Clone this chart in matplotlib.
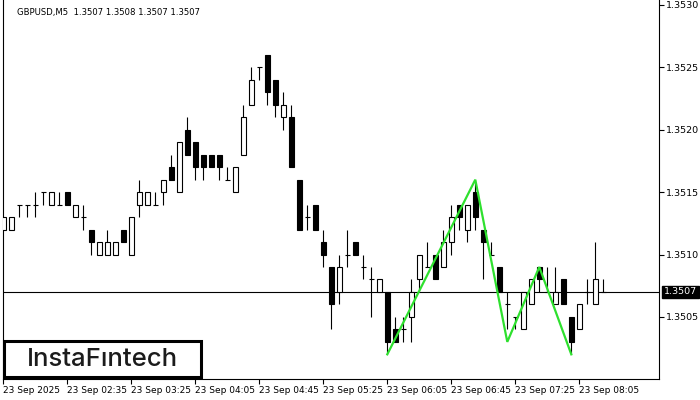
import matplotlib
matplotlib.use("Agg")
import matplotlib.pyplot as plt
from matplotlib.patches import Rectangle
import matplotlib.transforms as mtransforms

# GBPUSD M5 candles (one entry per bar, left to right)
opens = [1.3512, 1.3512, 1.3514, 1.3514, 1.3514, 1.3515, 1.3514, 1.3514, 1.3515, 1.3513,
         1.3513, 1.3512, 1.3510, 1.3510, 1.3510, 1.3512, 1.3510, 1.3514, 1.3514, 1.3514,
         1.3515, 1.3517, 1.3515, 1.3520, 1.3519, 1.3518, 1.3518, 1.3518, 1.3516, 1.3515,
         1.3518, 1.3522, 1.3525, 1.3526, 1.3524, 1.3521, 1.3521, 1.3516, 1.3513, 1.3514,
         1.3511, 1.3509, 1.3507, 1.3510, 1.3511, 1.3509, 1.3508, 1.3507, 1.3507, 1.3504,
         1.3504, 1.3505, 1.3508, 1.3509, 1.3510, 1.3509, 1.3511, 1.3514, 1.3512, 1.3515,
         1.3512, 1.3510, 1.3509, 1.3506, 1.3505, 1.3504, 1.3506, 1.3509, 1.3507, 1.3506,
         1.3508, 1.3505, 1.3504, 1.3507, 1.3506, 1.3507]
highs = [1.3513, 1.3513, 1.3514, 1.3514, 1.3515, 1.3515, 1.3515, 1.3515, 1.3515, 1.3514,
         1.3514, 1.3512, 1.3511, 1.3512, 1.3511, 1.3512, 1.3513, 1.3516, 1.3515, 1.3515,
         1.3516, 1.3518, 1.3519, 1.3521, 1.3519, 1.3518, 1.3518, 1.3518, 1.3517, 1.3517,
         1.3522, 1.3525, 1.3525, 1.3526, 1.3524, 1.3523, 1.3522, 1.3516, 1.3514, 1.3514,
         1.3512, 1.3509, 1.3510, 1.3512, 1.3511, 1.3510, 1.3509, 1.3508, 1.3507, 1.3505,
         1.3505, 1.3508, 1.3510, 1.3511, 1.3510, 1.3512, 1.3514, 1.3514, 1.3514, 1.3516,
         1.3512, 1.3511, 1.3509, 1.3507, 1.3505, 1.3507, 1.3508, 1.3509, 1.3509, 1.3509,
         1.3508, 1.3505, 1.3506, 1.3508, 1.3511, 1.3508]
lows = [1.3512, 1.3512, 1.3513, 1.3513, 1.3513, 1.3514, 1.3514, 1.3514, 1.3514, 1.3513,
        1.3512, 1.3510, 1.3510, 1.3510, 1.3510, 1.3511, 1.3510, 1.3513, 1.3514, 1.3514,
        1.3514, 1.3516, 1.3515, 1.3518, 1.3516, 1.3516, 1.3517, 1.3516, 1.3516, 1.3515,
        1.3518, 1.3522, 1.3524, 1.3522, 1.3521, 1.3520, 1.3517, 1.3512, 1.3512, 1.3512,
        1.3509, 1.3504, 1.3506, 1.3509, 1.3510, 1.3508, 1.3505, 1.3507, 1.3502, 1.3503,
        1.3503, 1.3503, 1.3507, 1.3509, 1.3508, 1.3509, 1.3510, 1.3512, 1.3511, 1.3512,
        1.3508, 1.3510, 1.3507, 1.3504, 1.3504, 1.3504, 1.3506, 1.3507, 1.3507, 1.3506,
        1.3506, 1.3502, 1.3504, 1.3506, 1.3506, 1.3507]
closes = [1.3513, 1.3513, 1.3514, 1.3514, 1.3514, 1.3515, 1.3515, 1.3514, 1.3514, 1.3514,
          1.3513, 1.3511, 1.3511, 1.3511, 1.3511, 1.3511, 1.3513, 1.3515, 1.3515, 1.3514,
          1.3516, 1.3516, 1.3519, 1.3518, 1.3517, 1.3517, 1.3517, 1.3517, 1.3516, 1.3517,
          1.3521, 1.3524, 1.3525, 1.3523, 1.3522, 1.3522, 1.3517, 1.3512, 1.3513, 1.3512,
          1.3510, 1.3506, 1.3509, 1.3510, 1.3510, 1.3509, 1.3508, 1.3508, 1.3503, 1.3503,
          1.3504, 1.3507, 1.3510, 1.3509, 1.3508, 1.3511, 1.3513, 1.3513, 1.3514, 1.3513,
          1.3511, 1.3510, 1.3507, 1.3506, 1.3505, 1.3507, 1.3508, 1.3508, 1.3507, 1.3507,
          1.3506, 1.3503, 1.3506, 1.3507, 1.3508, 1.3507]

# triple-bottom pattern drawn over the bars (bar index, price)
pattern_idx = [48, 59, 63, 67, 71]
pattern_px = [1.3502, 1.3516, 1.3503, 1.3509, 1.3502]

tick_idx = [0, 8, 16, 24, 32, 40, 48, 56, 64, 72]
tick_labels = ["23 Sep 2025", "23 Sep 02:35", "23 Sep 03:25", "23 Sep 04:05",
               "23 Sep 04:45", "23 Sep 05:25", "23 Sep 06:05", "23 Sep 06:45",
               "23 Sep 07:25", "23 Sep 08:05"]
price_ticks = [1.3505, 1.3510, 1.3515, 1.3520, 1.3525, 1.3530]
last_price = 1.3507
header = "GBPUSD,M5  1.3507 1.3508 1.3507 1.3507"

W, H = 700, 400
LW = 0.8
BODY = 0.28   # half body width in bar units
GREEN = "#2ee02e"


def main():
    fig = plt.figure(figsize=(W / 100, H / 100), dpi=100)
    fig.patch.set_facecolor("white")
    # plot frame in pixels: left 2.7, right 659.3, top 0, bottom 379.3
    ax = fig.add_axes([2.7 / W, 1 - 379.3 / H, (659.3 - 2.7) / W, 379.3 / H])
    ax.set_facecolor("white")

    for i, (o, h, l, c) in enumerate(zip(opens, highs, lows, closes)):
        top, bot = max(o, c), min(o, c)
        if h > top:
            ax.vlines(i, top, h, color="black", lw=LW, zorder=2)
        if l < bot:
            ax.vlines(i, l, bot, color="black", lw=LW, zorder=2)
        if abs(c - o) < 1e-9:
            ax.hlines(o, i - BODY, i + BODY, color="black", lw=LW, zorder=3)
        else:
            fc = "white" if c > o else "black"
            ax.bar(i, top - bot, bottom=bot, width=2 * BODY, color=fc,
                   edgecolor="black", linewidth=LW, zorder=3)

    ax.axhline(last_price, color="black", lw=LW, zorder=1)
    ax.plot(pattern_idx, pattern_px, color=GREEN, lw=1.6, zorder=4,
            solid_joinstyle="miter")

    ax.set_xlim(-0.075, 82.0)
    ax.set_ylim(1.35000, 1.35304)

    ax.spines["top"].set_visible(False)
    for s in ("left", "right", "bottom"):
        ax.spines[s].set_linewidth(LW)

    ax.set_xticks(tick_idx)
    ax.set_xticklabels(tick_labels, fontsize=6.5, ha="left")
    ax.tick_params(axis="x", length=3.5, width=LW, pad=1.5, direction="out")

    ax.yaxis.tick_right()
    ax.set_yticks(price_ticks)
    ax.set_yticklabels([f"{p:.4f}" for p in price_ticks], fontsize=6.8)
    ax.tick_params(axis="y", length=3.5, width=LW, pad=1.5, direction="out")

    # current price tag on the right scale
    trans = mtransforms.blended_transform_factory(ax.transAxes, ax.transData)
    ax.text(1.0071, last_price, "1.3507", transform=trans, ha="left", va="center",
            fontsize=6.8, color="white", zorder=6, clip_on=False,
            bbox=dict(boxstyle="square,pad=0.2", facecolor="black", edgecolor="black"))

    fig.text(17 / W, 1 - 12 / H, header, ha="left", va="center", fontsize=6.1,
             color="black")

    # watermark logo box, bottom left
    fig.patches.append(Rectangle((4 / W, 1 - 377 / H), 197 / W, 36 / H,
                                 transform=fig.transFigure, facecolor="white",
                                 edgecolor="black", linewidth=2.2, zorder=5))
    fig.text(102 / W, 1 - 359 / H, "InstaFıntech", ha="center", va="center",
             fontsize=18.5, family="Inter", fontweight="medium", color="#1b1b1b",
             zorder=6)

    fig.savefig("out.png", dpi=100, facecolor="white")
    plt.close(fig)


if __name__ == "__main__":
    main()
